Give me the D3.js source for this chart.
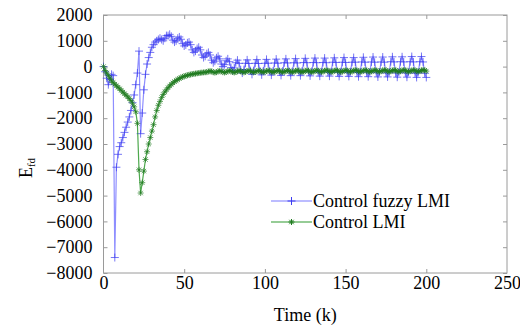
<!DOCTYPE html>
<html>
<head>
<meta charset="utf-8">
<script src="https://cdn.jsdelivr.net/npm/d3@7.9.0/dist/d3.min.js"></script>
<style>
  html, body { margin: 0; padding: 0; background: #fff; }
  svg { display: block; }
</style>
</head>
<body>
<div id="chart"></div>
<script>
// Time axis: k = 0 .. 200, one sample per step
const startK = 0;

// Control fuzzy LMI (blue, + markers)
const fuzzyLMI = [
  0, -200, -450, -700, -500, -300, -350, -7400, -3900, -3400,
  -3100, -2950, -2750, -2550, -2350, -2150, -1950, -1700, -1400, -1100,
  -700, -250, 600, -2600, -1800, -900, -300, 100, 350, 550,
  750, 850, 950, 1000, 1050, 1100, 1050, 1000, 1100, 1200,
  1200, 1250, 1175, 1025, 950, 1000, 1100, 1150, 1060, 890,
  800, 840, 920, 950, 850, 650, 550, 600, 700, 750,
  650, 450, 350, 400, 500, 550, 450, 250, 150, 210,
  340, 400, 300, 100, 0, 75, 225, 300, 190, -40,
  -150, -50, 150, 250, 125, -125, -250, -120, 130, 260,
  120, -160, -300, -160, 130, 270, 120, -180, -320, -170,
  130, 280, 130, -180, -330, -180, 140, 290, 130, -200,
  -340, -180, 150, 300, 140, -200, -350, -190, 150, 310,
  140, -200, -350, -180, 160, 320, 150, -210, -360, -190,
  160, 330, 150, -220, -370, -200, 160, 330, 150, -220,
  -370, -200, 170, 340, 160, -230, -380, -200, 170, 350,
  160, -230, -380, -200, 170, 350, 170, -230, -390, -210,
  180, 360, 170, -240, -390, -210, 180, 370, 170, -240,
  -400, -210, 180, 370, 170, -250, -400, -220, 190, 380,
  180, -250, -410, -220, 190, 380, 180, -250, -410, -220,
  190, 390, 180, -260, -420, -230, 190, 390, 180, -260,
  -420
];

// Control LMI (green, * markers)
const plainLMI = [
  0, -150, -250, -350, -450, -550, -620, -680, -740, -800,
  -860, -920, -990, -1050, -1110, -1170, -1240, -1320, -1420, -1560,
  -1750, -2200, -4000, -4900, -4500, -4050, -3600, -3300, -3000, -2750,
  -2500, -2250, -1950, -1700, -1500, -1350, -1200, -1080, -980, -900,
  -820, -750, -690, -630, -580, -540, -500, -460, -430, -400,
  -375, -355, -335, -320, -305, -290, -280, -270, -260, -250,
  -240, -235, -225, -220, -215, -190, -170, -185, -220, -235,
  -215, -185, -165, -180, -215, -230, -210, -180, -160, -175,
  -210, -230, -210, -180, -160, -175, -210, -225, -205, -175,
  -155, -170, -205, -225, -205, -175, -155, -170, -205, -220,
  -200, -170, -150, -165, -200, -220, -200, -170, -150, -165,
  -200, -220, -200, -170, -150, -165, -200, -215, -195, -165,
  -145, -160, -195, -215, -195, -165, -145, -160, -195, -215,
  -195, -165, -145, -160, -195, -210, -190, -160, -140, -155,
  -190, -210, -190, -160, -140, -155, -190, -210, -190, -160,
  -140, -155, -190, -205, -185, -155, -135, -150, -185, -205,
  -185, -155, -135, -150, -185, -205, -185, -155, -135, -150,
  -185, -200, -180, -150, -130, -145, -180, -200, -180, -150,
  -130, -145, -180, -200, -180, -150, -130, -145, -180, -200,
  -180, -150, -130, -145, -180, -195, -175, -145, -125, -140,
  -175
];

const xTicks = [0, 50, 100, 150, 200, 250];
const yTicks = [2000, 1000, 0, -1000, -2000, -3000, -4000, -5000, -6000, -7000, -8000];
const seriesNames = ['Control fuzzy LMI', 'Control LMI'];

// ━━━━━━━━━━━━━━━ Layout ━━━━━━━━━━━━━━━
const W = 520, H = 325;
const margin = { left: 103.5, right: 13, top: 15, bottom: 52 };
const FONT = 'Liberation Serif, DejaVu Serif, Times New Roman, Times, serif';
const FS = 18;
const BLUE_LINE = '#7a7aff';
const BLUE_MARK = '#3c3cf0';
const GREEN_LINE = '#2f9a2f';
const GREEN_MARK = '#1f7a1f';
const FRAME = '#9a9a9a';

const svg = d3.select('#chart').append('svg')
  .attr('width', W)
  .attr('height', H)
  .attr('viewBox', `0 0 ${W} ${H}`)
  .attr('font-family', FONT)
  .attr('font-size', FS);

const x = d3.scaleLinear().domain([0, 250]).range([margin.left, W - margin.right]);
const y = d3.scaleLinear().domain([-8000, 2000]).range([H - margin.bottom, margin.top]);

// Axes (ticks inside, on all four sides)
const tickLen = 4;
const styleAxis = g => {
  g.attr('font-family', FONT).attr('font-size', FS);
  g.select('.domain').remove();
  g.selectAll('.tick line').attr('stroke', FRAME);
  g.selectAll('.tick text').attr('fill', '#000');
};

svg.append('g')
  .attr('transform', `translate(0,${y(-8000)})`)
  .call(d3.axisBottom(x).tickValues(xTicks).tickFormat(d3.format('d'))
    .tickSizeInner(-tickLen).tickSizeOuter(0).tickPadding(3))
  .call(styleAxis)
  .call(g => g.selectAll('.tick').filter(d => d === 0 || d === 250).select('line').remove());

svg.append('g')
  .attr('transform', `translate(0,${y(2000)})`)
  .call(d3.axisTop(x).tickValues(xTicks).tickSizeInner(-tickLen).tickSizeOuter(0).tickFormat(''))
  .call(styleAxis)
  .call(g => g.selectAll('.tick').filter(d => d === 0 || d === 250).select('line').remove());

svg.append('g')
  .attr('transform', `translate(${x(0)},0)`)
  .call(d3.axisLeft(y).tickValues(yTicks).tickFormat(d3.format('d'))
    .tickSizeInner(-tickLen).tickSizeOuter(0).tickPadding(11))
  .call(styleAxis);

svg.append('g')
  .attr('transform', `translate(${x(250)},0)`)
  .call(d3.axisRight(y).tickValues(yTicks).tickSizeInner(-tickLen).tickSizeOuter(0).tickFormat(''))
  .call(styleAxis);

// Frame
svg.append('rect')
  .attr('x', x(0))
  .attr('y', y(2000))
  .attr('width', x(250) - x(0))
  .attr('height', y(-8000) - y(2000))
  .attr('fill', 'none')
  .attr('stroke', FRAME)
  .attr('stroke-width', 1);

// Series
const toPoints = arr => arr.map((v, i) => ({ k: startK + i, v }));
const line = d3.line().x(d => x(d.k)).y(d => y(d.v));

const plusPath = 'M-4,0H4M0,-4V4';
const starPath = 'M-3,0H3M0,-3V3M-2.2,-2.2L2.2,2.2M-2.2,2.2L2.2,-2.2';

function drawSeries(arr, lineColor, markColor, markPath) {
  const pts = toPoints(arr);
  svg.append('path')
    .datum(pts)
    .attr('d', line)
    .attr('fill', 'none')
    .attr('stroke', lineColor)
    .attr('stroke-width', 1.2)
    .attr('stroke-opacity', 0.85);
  svg.append('g')
    .selectAll('path')
    .data(pts)
    .join('path')
    .attr('transform', d => `translate(${x(d.k)},${y(d.v)})`)
    .attr('d', markPath)
    .attr('fill', 'none')
    .attr('stroke', markColor)
    .attr('stroke-width', 1)
    .attr('stroke-opacity', 0.7);
}

drawSeries(fuzzyLMI, BLUE_LINE, BLUE_MARK, plusPath);
drawSeries(plainLMI, GREEN_LINE, GREEN_MARK, starPath);

// Legend
const legend = svg.append('g');
const legendItems = [
  { name: seriesNames[0], line: BLUE_LINE, mark: BLUE_MARK, path: plusPath, y: 201 },
  { name: seriesNames[1], line: GREEN_LINE, mark: GREEN_MARK, path: starPath, y: 222 }
];
legendItems.forEach(it => {
  legend.append('line')
    .attr('x1', 271).attr('x2', 312)
    .attr('y1', it.y).attr('y2', it.y)
    .attr('stroke', it.line)
    .attr('stroke-width', 1.2);
  legend.append('path')
    .attr('transform', `translate(291.5,${it.y})`)
    .attr('d', it.path)
    .attr('fill', 'none')
    .attr('stroke', it.mark)
    .attr('stroke-width', 1);
  legend.append('text')
    .attr('x', 313)
    .attr('y', it.y + 6)
    .attr('fill', '#000')
    .text(it.name);
});

// Axis titles
svg.append('text')
  .attr('x', x(125))
  .attr('y', 321)
  .attr('text-anchor', 'middle')
  .text('Time (k)');

const yTitle = svg.append('text')
  .attr('transform', 'translate(32,168) rotate(-90)')
  .attr('text-anchor', 'middle');
yTitle.append('tspan').text('E');
yTitle.append('tspan').attr('font-size', 11).attr('dy', 3).text('fd');
</script>
</body>
</html>
